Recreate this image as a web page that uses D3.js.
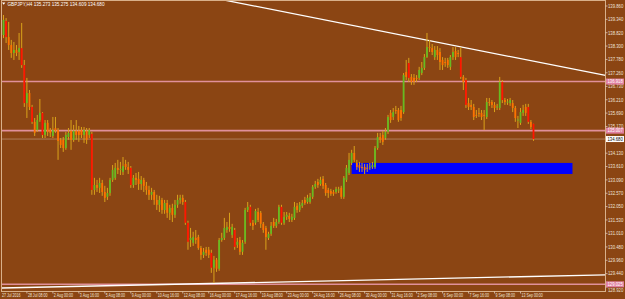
<!DOCTYPE html>
<html>
<head>
<meta charset="utf-8">
<script src="https://cdn.jsdelivr.net/npm/d3@7/dist/d3.min.js"></script>
<style>
  html, body { margin: 0; padding: 0; background: #8b4513; }
  svg { display: block; }
  text { font-family: "Liberation Sans", Arial, sans-serif; }
</style>
</head>
<body>
<div id="chart"></div>
<script>
'use strict'

var symbolTitle = 'GBPJPY,H4  135.273 135.275 134.609 134.680'

// H4 bars, [open, high, low, close]
var candles = [
  [138.73,139.51,138.61,139.32],[139.28,139.39,138.42,138.65],[138.65,139.24,138.15,138.34],
  [138.34,138.54,137.84,138.03],[138.03,138.46,137.76,138.15],[138.15,138.34,137.91,138.03],
  [138.07,138.81,137.76,138.22],[138.22,139.20,137.45,137.56],[137.56,137.76,135.93,136.08],
  [136.08,137.06,135.50,136.47],[136.47,136.59,135.81,135.93],[135.93,136.01,135.27,135.35],
  [135.35,135.50,134.80,134.92],[135.03,135.62,134.96,135.42],[135.42,136.24,135.35,135.70],
  [135.70,135.73,134.72,134.84],[134.84,135.42,134.72,135.31],[135.31,135.42,134.80,134.96],
  [135.03,135.11,134.76,134.92],[134.80,135.54,134.72,135.03],[135.11,135.54,134.92,135.00],
  [135.03,135.11,133.87,134.61],[134.65,134.72,134.33,134.45],[134.65,134.76,134.18,134.33],
  [134.33,134.96,134.26,134.84],[134.76,135.11,134.65,134.92],[135.00,135.42,134.26,134.65],
  [134.65,135.23,134.57,135.00],[135.00,135.42,134.65,134.84],[135.00,135.19,134.57,134.84],
  [135.03,135.15,134.72,134.84],[134.84,135.15,134.53,135.03],[135.00,135.11,134.49,134.65],
  [134.84,135.11,134.72,135.03],[134.88,134.96,132.51,132.70],[132.70,133.17,132.51,132.89],
  [132.89,133.09,132.62,132.78],[132.78,133.17,132.58,132.97],[132.97,133.09,132.47,132.62],
  [132.62,132.86,132.23,132.39],[132.43,132.78,132.31,132.58],[132.58,133.17,132.47,133.09],
  [133.09,133.67,133.01,133.48],[133.17,133.75,133.09,133.56],[133.56,133.87,133.32,133.48],
  [133.48,133.79,133.28,133.52],[133.40,133.98,133.28,133.63],[133.71,133.87,133.48,133.59],
  [133.59,133.79,133.32,133.48],[133.56,133.63,132.78,132.89],[132.89,133.28,132.78,133.17],
  [133.17,133.36,132.89,133.09],[133.13,133.40,132.70,132.93],[132.93,133.24,132.70,133.09],
  [133.09,133.17,132.62,132.86],[132.86,133.01,132.51,132.70],[132.70,132.86,132.31,132.51],
  [132.51,132.78,132.31,132.62],[132.62,132.70,132.12,132.31],[132.31,132.51,131.92,132.12],
  [132.12,132.47,131.84,132.31],[132.31,132.39,131.77,131.92],[131.92,132.31,131.77,132.19],
  [132.19,132.31,131.61,131.81],[131.81,132.12,131.53,132.00],[132.00,132.16,131.45,131.73],
  [131.73,132.31,131.61,132.12],[132.12,132.51,132.00,132.31],[132.31,132.51,132.16,132.39],
  [132.39,132.51,132.12,132.23],[132.23,132.31,131.34,131.42],[131.42,131.50,130.37,130.68],
  [130.75,131.22,130.48,130.83],[130.64,131.07,130.52,130.87],[130.83,131.14,130.60,130.75],
  [130.87,130.95,130.37,130.44],[130.44,130.52,129.98,130.17],[130.17,130.44,130.05,130.29],
  [130.37,130.48,130.13,130.25],[130.37,130.48,130.05,130.17],[130.25,130.37,129.47,129.67],
  [129.67,130.13,129.08,129.98],[129.98,130.05,129.51,129.63],[129.63,130.83,129.55,130.75],
  [130.75,131.03,130.68,130.83],[130.83,131.61,130.75,131.22],[131.14,131.45,131.03,131.26],
  [131.26,131.81,131.07,131.18],[130.95,131.38,130.83,131.26],[131.14,131.22,130.37,130.48],
  [130.56,130.83,130.44,130.68],[130.75,130.87,130.17,130.29],[130.29,130.75,130.17,130.64],
  [130.68,132.00,130.60,131.92],[131.92,132.23,131.84,132.04],[132.04,132.12,131.30,131.42],
  [131.42,131.53,131.14,131.30],[131.42,131.96,131.34,131.88],[131.84,132.00,131.45,131.53],
  [131.81,131.88,131.22,131.38],[131.38,131.45,131.03,131.14],[131.22,131.30,130.37,130.87],
  [130.83,131.07,130.75,130.99],[130.99,131.45,130.91,131.30],[131.45,131.61,131.22,131.30],
  [131.30,131.57,131.22,131.45],[131.45,132.12,131.38,132.04],[132.04,132.12,131.34,131.42],
  [131.42,131.84,131.34,131.65],[131.65,131.84,131.53,131.73],[131.69,131.81,131.45,131.57],
  [131.53,131.77,131.45,131.65],[131.61,132.23,131.53,132.04],[132.08,132.19,131.81,131.92],
  [131.92,132.23,131.84,132.12],[132.08,132.31,132.00,132.19],[132.31,132.43,132.12,132.19],
  [132.23,132.51,132.16,132.39],[132.23,132.58,132.16,132.43],[132.43,132.89,132.35,132.82],
  [132.82,133.05,132.74,132.93],[133.01,133.13,132.78,132.89],[132.93,133.21,132.86,133.09],
  [133.13,133.24,132.74,132.86],[132.89,132.97,132.47,132.58],[132.70,132.78,132.39,132.58],
  [132.66,132.74,132.47,132.55],[132.62,132.70,132.47,132.55],[132.62,132.82,132.55,132.74],
  [132.70,132.82,132.58,132.72],[132.78,132.86,132.35,132.43],[132.43,133.24,132.35,133.17],
  [133.09,133.67,133.01,133.56],[133.36,134.14,133.28,133.87],[133.75,134.26,133.67,134.14],
  [134.14,134.41,133.79,133.87],[133.75,133.87,133.48,133.59],[133.67,133.79,133.40,133.56],
  [133.59,133.75,133.40,133.57],[133.59,133.71,133.32,133.48],[133.56,133.71,133.40,133.55],
  [133.59,133.75,133.48,133.60],[133.59,133.79,133.52,133.67],[133.59,134.41,133.52,134.33],
  [134.33,134.92,134.26,134.76],[134.76,134.92,134.53,134.65],[134.84,135.00,134.45,134.57],
  [134.72,135.11,134.65,134.96],[134.96,135.62,134.88,135.54],[135.70,135.81,135.31,135.42],
  [135.54,135.89,135.42,135.73],[135.81,135.97,135.66,135.80],[135.81,135.89,135.35,135.42],
  [135.81,135.97,135.39,135.50],[135.73,137.25,135.66,137.17],[137.29,137.76,136.98,137.10],
  [137.64,137.84,136.90,137.06],[137.10,137.21,136.79,136.90],[137.06,137.21,136.79,136.92],
  [137.06,137.17,136.90,137.04],[137.06,137.49,136.98,137.37],[137.25,137.68,137.17,137.45],
  [137.45,137.99,137.37,137.87],[137.87,138.81,137.84,138.26],[138.26,138.54,138.07,138.24],
  [138.22,138.38,137.95,138.07],[137.87,138.30,137.76,138.15],[138.15,138.30,137.76,137.95],
  [138.07,138.22,137.37,137.68],[137.76,137.87,137.37,137.56],[137.68,137.84,137.49,137.64],
  [137.76,137.84,137.45,137.56],[137.49,137.95,137.37,137.87],[137.87,138.26,137.76,138.07],
  [138.11,138.26,137.76,137.87],[138.03,138.15,137.87,138.01],[137.87,138.26,137.02,137.10],
  [137.10,137.17,136.59,136.90],[136.98,137.06,135.89,136.01],[136.08,136.28,135.81,135.93],
  [136.01,136.20,135.81,135.93],[135.93,136.05,135.42,135.54],[135.62,135.81,135.50,135.60],
  [135.70,135.89,135.54,135.68],[135.70,135.81,135.42,135.54],[135.62,135.81,135.03,135.60],
  [135.54,136.28,135.46,136.12],[136.12,136.28,135.97,136.10],[136.12,136.20,135.89,136.01],
  [136.01,136.12,135.73,135.89],[135.93,136.05,135.81,135.95],[135.89,137.10,135.81,136.90],
  [136.90,136.98,136.08,136.20],[136.20,136.28,136.01,136.12],[136.12,136.24,136.01,136.14],
  [136.08,136.28,135.97,136.20],[136.08,136.20,135.73,135.89],[135.89,135.97,135.35,135.50],
  [135.42,135.58,135.11,135.44],[135.31,135.89,135.23,135.73],[135.70,136.01,135.58,135.81],
  [135.93,136.05,135.58,135.70],[135.93,136.05,135.27,135.35],[135.35,135.42,135.07,135.15],
  [135.273,135.275,134.609,134.680]
]

// 134.650 sits under the bid tag in the original, so it is left out
var priceTicks = [139.860, 139.340, 138.820, 138.300, 137.780, 137.260, 136.730, 136.210,
  135.690, 135.170, 134.130, 133.610, 133.090, 132.570, 132.050, 131.530,
  131.010, 130.480, 129.960, 129.440, 128.920]

var firstTimeLabel = '27 Jul 2016'
var timeLabels = ['28 Jul 08:00', '2 Aug 00:00', '3 Aug 16:00', '5 Aug 08:00', '9 Aug 00:00',
  '10 Aug 16:00', '12 Aug 08:00', '16 Aug 00:00', '17 Aug 16:00', '19 Aug 08:00',
  '23 Aug 00:00', '24 Aug 16:00', '26 Aug 08:00', '30 Aug 00:00', '31 Aug 16:00',
  '2 Sep 08:00', '6 Sep 00:00', '7 Sep 16:00', '9 Sep 08:00', '13 Sep 00:00']

var levelPrices = [136.918, 135.007, 129.025]
var bidPrice = 134.680

// [bar index, price] anchors
var upperTrend = [[129.5, 139.20], [217, 137.45]]
var lowerTrend = [[-1, 128.88], [231, 129.39]]
var zoneBars = [134, 219]
var zonePrices = [133.75, 133.32]

var W = 625, H = 299
var frame = { left: 1.5, right: 605.5, top: 0.5, bottom: 291.5 }

var svg = d3.select('#chart').append('svg')
  .attr('width', W)
  .attr('height', H)

svg.append('rect')
  .attr('width', W).attr('height', H)
  .attr('fill', '#8b4513')

var x = d3.scaleLinear()
  .domain([0, candles.length - 1])
  .range([3.5, 533.5])

var y = d3.scaleLinear()
  .domain([128.92, 139.86])
  .range([287, 6])

svg.append('clipPath').attr('id', 'plot')
  .append('rect')
  .attr('x', frame.left).attr('y', frame.top)
  .attr('width', frame.right - frame.left)
  .attr('height', frame.bottom - frame.top)

var plot = svg.append('g').attr('clip-path', 'url(#plot)')

// horizontal levels
plot.selectAll('line.level')
  .data(levelPrices)
  .enter().append('line')
  .attr('class', 'level')
  .attr('x1', frame.left).attr('x2', frame.right)
  .attr('y1', function(d) { return y(d) })
  .attr('y2', function(d) { return y(d) })
  .attr('stroke', '#e0909a')
  .attr('stroke-width', 1.6)

plot.append('line')
  .attr('x1', frame.left).attr('x2', frame.right)
  .attr('y1', y(bidPrice)).attr('y2', y(bidPrice))
  .attr('stroke', '#b98c6c')
  .attr('stroke-width', 0.8)

// blue zone
plot.append('rect')
  .attr('x', x(zoneBars[0]))
  .attr('width', x(zoneBars[1]) - x(zoneBars[0]))
  .attr('y', y(zonePrices[0]))
  .attr('height', y(zonePrices[1]) - y(zonePrices[0]))
  .attr('fill', '#0000ff')

// trend lines, extended across the plot
function drawTrend(pts) {
  var x0 = x(pts[0][0]), y0 = y(pts[0][1])
  var x1 = x(pts[1][0]), y1 = y(pts[1][1])
  var k = (y1 - y0) / (x1 - x0)
  plot.append('line')
    .attr('x1', frame.left).attr('y1', y0 + k * (frame.left - x0))
    .attr('x2', frame.right).attr('y2', y0 + k * (frame.right - x0))
    .attr('stroke', '#ffffff')
    .attr('stroke-width', 1.3)
}
drawTrend(upperTrend)
drawTrend(lowerTrend)

// candles
var bar = plot.selectAll('g.bar')
  .data(candles)
  .enter().append('g')
  .attr('class', 'bar')

bar.append('line')
  .attr('x1', function(d, i) { return x(i) })
  .attr('x2', function(d, i) { return x(i) })
  .attr('y1', function(d) { return y(d[1]) })
  .attr('y2', function(d) { return y(d[2]) })
  .attr('stroke', '#d9a21b')
  .attr('stroke-width', 1)

bar.append('rect')
  .attr('x', function(d, i) { return x(i) - 0.9 })
  .attr('width', 1.8)
  .attr('y', function(d) { return y(Math.max(d[0], d[3])) })
  .attr('height', function(d) { return Math.max(1, Math.abs(y(d[0]) - y(d[3]))) })
  .attr('fill', function(d) {
    if (d[3] > d[0]) return '#66bb22'
    if (Math.abs(y(d[0]) - y(d[3])) > 14) return '#ff1500'
    return '#ff7200'
  })

// frame
svg.append('rect')
  .attr('x', frame.left).attr('y', frame.top)
  .attr('width', frame.right - frame.left)
  .attr('height', frame.bottom - frame.top)
  .attr('fill', 'none')
  .attr('stroke', '#d8b08a')
  .attr('stroke-width', 1)

// price axis
var axis = svg.append('g')
axis.selectAll('line.tick')
  .data(priceTicks)
  .enter().append('line')
  .attr('x1', frame.right).attr('x2', frame.right + 2)
  .attr('y1', function(d) { return y(d) })
  .attr('y2', function(d) { return y(d) })
  .attr('stroke', '#e8d8c8')
  .attr('stroke-width', 0.7)

axis.selectAll('text.tick')
  .data(priceTicks)
  .enter().append('text')
  .attr('transform', function(d) {
    // the lowest label peeks out below the level tag
    var ty = d < 129 ? 291.6 : y(d) + 1.8
    return 'translate(608,' + ty + ') scale(0.85,1)'
  })
  .attr('font-size', '5px')
  .attr('fill', '#efe4da')
  .text(function(d) { return d.toFixed(3) })

function priceTag(p, bg, fg) {
  var g = svg.append('g')
  g.append('rect')
    .attr('x', frame.right + 0.5).attr('y', y(p) - 3)
    .attr('width', 18).attr('height', 6)
    .attr('fill', bg)
  g.append('text')
    .attr('transform', 'translate(607.5,' + (y(p) + 1.8) + ') scale(0.85,1)')
    .attr('font-size', '5px')
    .attr('fill', fg)
    .text(p.toFixed(3))
}
levelPrices.forEach(function(p) { priceTag(p, '#e07fa0', '#ffffff') })
priceTag(bidPrice, '#ffffff', '#000000')

// time axis
var tickIdx = timeLabels.map(function(d, k) { return 9 + 10 * k })
svg.selectAll('line.tt')
  .data(tickIdx)
  .enter().append('line')
  .attr('x1', function(d) { return x(d) }).attr('x2', function(d) { return x(d) })
  .attr('y1', frame.bottom).attr('y2', frame.bottom + 2)
  .attr('stroke', '#e8d8c8')
  .attr('stroke-width', 0.7)

svg.selectAll('text.tt')
  .data(timeLabels)
  .enter().append('text')
  .attr('transform', function(d, k) { return 'translate(' + (x(tickIdx[k]) + 1) + ',297) scale(0.72,1)' })
  .attr('font-size', '5px')
  .attr('fill', '#efe4da')
  .text(function(d) { return d })

svg.append('text')
  .attr('transform', 'translate(2,297) scale(0.72,1)')
  .attr('font-size', '5px')
  .attr('fill', '#efe4da')
  .text(firstTimeLabel)

// title
svg.append('path')
  .attr('d', 'M2,2.6 L5.4,2.6 L3.7,4.8 Z')
  .attr('fill', '#ffffff')
svg.append('text')
  .attr('x', 7.5).attr('y', 5.6)
  .attr('font-size', '5.2px')
  .attr('textLength', 97)
  .attr('lengthAdjust', 'spacingAndGlyphs')
  .attr('fill', '#ffffff')
  .text(symbolTitle)
</script>
</body>
</html>
